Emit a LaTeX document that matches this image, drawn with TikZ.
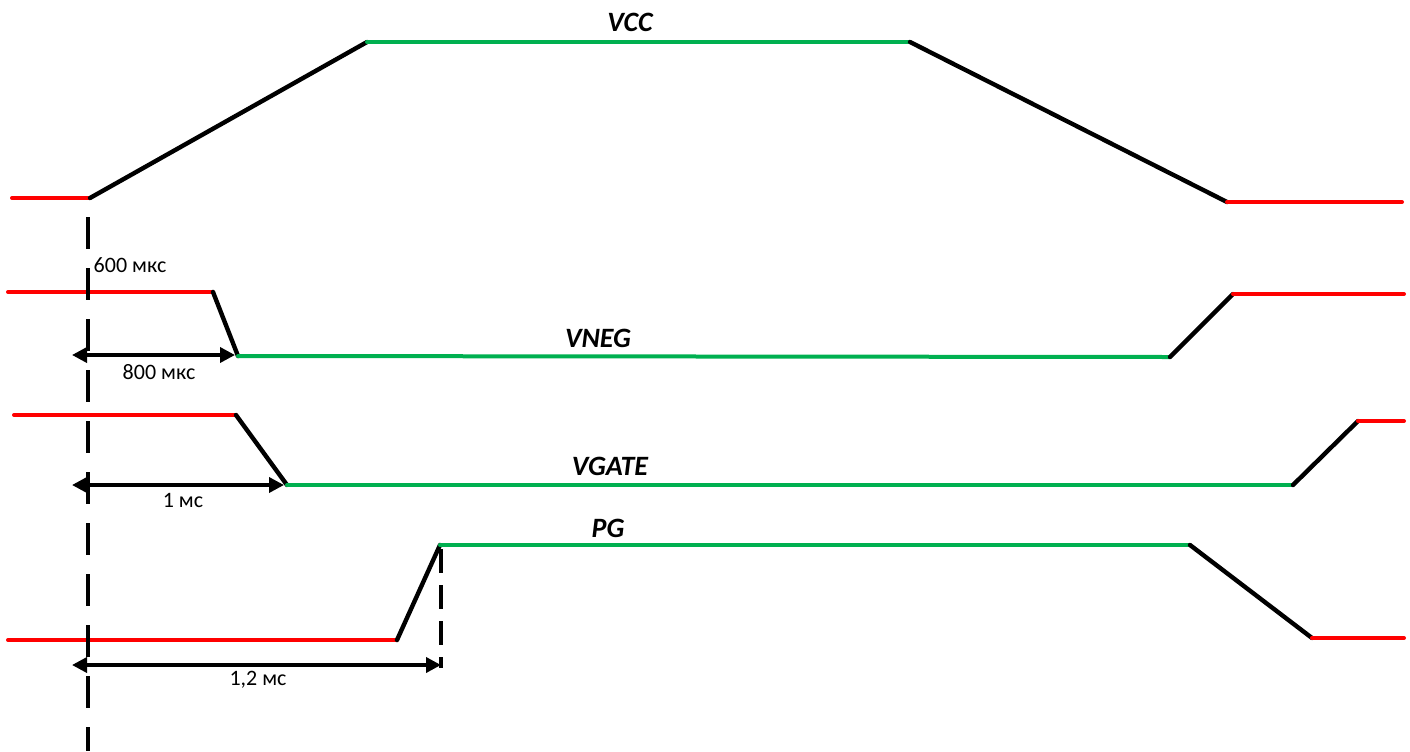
\documentclass[tikz,border=0pt]{standalone}
\usepackage{fontspec}
\setmainfont{Carlito}
\usepackage{xcolor}
\usepackage{tikz}
\usetikzlibrary{arrows.meta,positioning,calc}

\definecolor{lowred}{HTML}{FF0000}
\definecolor{highgreen}{HTML}{00B050}

\tikzset{
    low/.style={draw=lowred,line width=2pt,line cap=round},
    high/.style={draw=highgreen,line width=2pt,line cap=round},
    edge/.style={draw=black,line width=2.2pt,line cap=round},
    marker/.style={draw=black,line width=2.4pt,dash pattern=on 16pt off 9.5pt},
    span/.style={draw=black,line width=1.8pt,{Triangle[length=7.5pt,width=7.5pt]}-{Triangle[length=7.5pt,width=7.5pt]}},
    sig/.style={font=\fontsize{14}{16}\selectfont\bfseries\itshape,inner sep=1pt},
    tlabel/.style={font=\fontsize{11}{13}\selectfont,inner sep=1pt}
}

\begin{document}
\begin{tikzpicture}[x=0.5pt,y=-0.5pt]
    \useasboundingbox (0,0) rectangle (1410,751);

    % VCC
    \coordinate (vcc0) at (12,198);
    \coordinate (vcc1) at (90,198);
    \coordinate (vcc2) at (367,42);
    \coordinate (vcc3) at (910,42);
    \coordinate (vcc4) at (1227,202);
    \coordinate (vcc5) at (1402,202);
    \draw[low] (vcc0) -- (vcc1);
    \draw[edge] (vcc1) -- (vcc2);
    \draw[high] (vcc2) -- (vcc3);
    \draw[edge] (vcc3) -- (vcc4);
    \draw[low] (vcc4) -- (vcc5);
    \node[sig] (lvcc) at (630,22) {VCC};

    % VNEG
    \coordinate (neg0) at (8,292);
    \coordinate (neg1) at (213,292);
    \coordinate (neg2) at (238,356);
    \coordinate (neg3) at (1170,357);
    \coordinate (neg4) at (1233,294);
    \coordinate (neg5) at (1404,294);
    \draw[low] (neg0) -- (neg1);
    \draw[edge] (neg1) -- (neg2);
    \draw[high] (neg2) -- (neg3);
    \draw[edge] (neg3) -- (neg4);
    \draw[low] (neg4) -- (neg5);
    \node[sig] (lneg) at (598,338) {VNEG};

    % VGATE
    \coordinate (gate0) at (14,415);
    \coordinate (gate1) at (236,415);
    \coordinate (gate2) at (287,485);
    \coordinate (gate3) at (1293,485);
    \coordinate (gate4) at (1358,421);
    \coordinate (gate5) at (1404,421);
    \draw[low] (gate0) -- (gate1);
    \draw[edge] (gate1) -- (gate2);
    \draw[high] (gate2) -- (gate3);
    \draw[edge] (gate3) -- (gate4);
    \draw[low] (gate4) -- (gate5);
    \node[sig] (lgate) at (610,466) {VGATE};

    % PG
    \coordinate (pg0) at (8,640);
    \coordinate (pg1) at (397,640);
    \coordinate (pg2) at (440,545);
    \coordinate (pg3) at (1190,545);
    \coordinate (pg4) at (1312,638);
    \coordinate (pg5) at (1404,638);
    \draw[low] (pg0) -- (pg1);
    \draw[edge] (pg1) -- (pg2);
    \draw[high] (pg2) -- (pg3);
    \draw[edge] (pg3) -- (pg4);
    \draw[low] (pg4) -- (pg5);
    \node[sig] (lpg) at (608,528) {PG};

    % time markers
    \coordinate (t0top) at (88,217);
    \coordinate (t0bot) at (88,751);
    \draw[marker] (t0top) -- (t0bot);
    \coordinate (t4top) at (441,549);
    \coordinate (t4bot) at (441,668);
    \draw[marker,dash pattern=on 12pt off 6pt] (t4top) -- (t4bot);

    \node[tlabel] (d600) at (130,265) {600 мкс};

    \coordinate (a1) at (72,355);
    \coordinate (b1) at (235,355);
    \draw[span] (a1) -- (b1);
    \node[tlabel] (d800) at (159,372) {800 мкс};

    \coordinate (a2) at (72,485);
    \coordinate (b2) at (284,485);
    \draw[span] (a2) -- (b2);
    \node[tlabel] (d1) at (183,500) {1 мс};

    \coordinate (a3) at (72,665);
    \coordinate (b3) at (441,665);
    \draw[span] (a3) -- (b3);
    \node[tlabel] (d12) at (258,680) {1,2 мс};
\end{tikzpicture}
\end{document}
